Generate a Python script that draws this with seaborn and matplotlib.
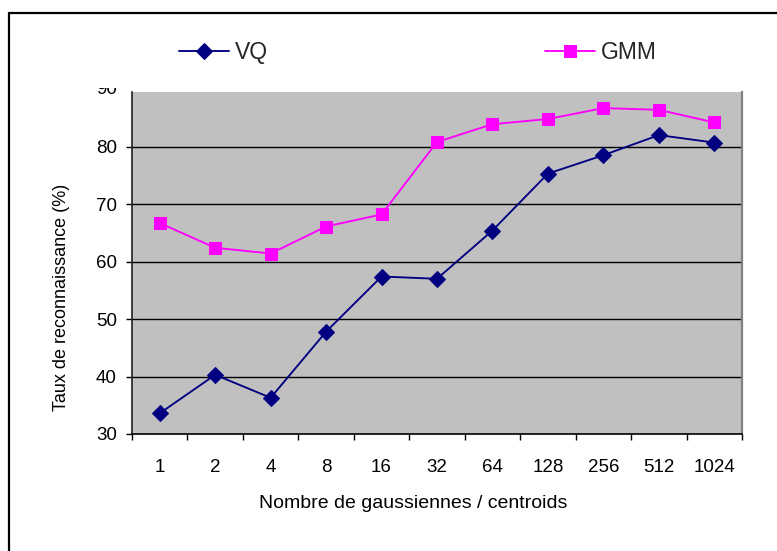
import matplotlib
matplotlib.use("Agg")
import matplotlib.pyplot as plt
import matplotlib.transforms as mtransforms
from matplotlib.lines import Line2D
import seaborn as sns
import pandas as pd

# Recognition rate vs. number of gaussians / centroids
sizes = ["1", "2", "4", "8", "16", "32", "64", "128", "256", "512", "1024"]
vq = [33.6, 40.3, 36.3, 47.8, 57.4, 57.0, 65.4, 75.3, 78.5, 82.0, 80.7]
gmm = [66.7, 62.4, 61.4, 66.1, 68.2, 80.8, 83.9, 84.8, 86.7, 86.4, 84.2]
y_ticks = [30, 40, 50, 60, 70, 80, 90]

sns.set_theme(style="white")
plt.rcParams["font.family"] = ["Liberation Sans", "DejaVu Sans"]

W, H, DPI = 777, 551, 100
fig = plt.figure(figsize=(W / DPI, H / DPI), dpi=DPI)

# outer frame: only the top and left edges are drawn
fig.add_artist(Line2D([9 / W, 9 / W], [0, 1 - 13 / H], transform=fig.transFigure,
                      color="black", lw=1.6))
fig.add_artist(Line2D([9 / W, 1], [1 - 13 / H, 1 - 13 / H], transform=fig.transFigure,
                      color="black", lw=1.6))

left, right, bottom, top = 132 / W, 742 / W, 1 - 434 / H, 1 - 92 / H
ax = fig.add_axes([left, bottom, right - left, top - bottom])
ax.set_facecolor("#C0C0C0")

df = pd.DataFrame({"pos": range(len(sizes)), "VQ": vq, "GMM": gmm})

sns.lineplot(data=df, x="pos", y="VQ", ax=ax, color="#000080", marker="D",
             markersize=8, markeredgecolor="#000080", linewidth=1.35, label="VQ",
             zorder=4)
sns.lineplot(data=df, x="pos", y="GMM", ax=ax, color="#FF00FF", marker="s",
             markersize=8, markeredgecolor="#FF00FF", linewidth=1.35, label="GMM",
             zorder=3)

ax.set_xlim(-0.5, len(sizes) - 0.5)
ax.set_ylim(30, 89.5)

# category boundaries carry the tick marks, category centres carry the labels
ax.set_xticks([i - 0.5 for i in range(len(sizes) + 1)])
ax.set_xticklabels([])
ax.set_xticks(range(len(sizes)), minor=True)
ax.set_xticklabels(sizes, minor=True)
ax.tick_params(axis="x", which="major", direction="out", length=4, width=1,
               color="black", bottom=True)
ax.tick_params(axis="x", which="minor", length=0, pad=18, labelsize=13.5,
               labelcolor="black", bottom=True)

ax.set_yticks([t for t in y_ticks if t < 89.5])
ax.tick_params(axis="y", direction="out", length=4.3, width=1, color="black",
               pad=6.5, labelsize=13.5, labelcolor="black", left=True)

for t in y_ticks[1:]:
    if t < 89.5:
        ax.axhline(t, color="black", lw=1.0, zorder=1)

# the topmost label sits partly hidden under the legend band
lbl_tr = mtransforms.offset_copy(ax.get_yaxis_transform(), fig=fig,
                                 x=-(4.3 + 6.5), y=0, units="points")
top_lbl = ax.text(0, 90, "90", transform=lbl_tr, ha="right", va="center",
                  fontsize=13.5, color="black", clip_on=True)
top_lbl.set_clip_box(mtransforms.Bbox([[0, 0], [W, H - 88]]))

ax.spines["top"].set_visible(False)
ax.spines["left"].set_color("#202020")
ax.spines["left"].set_linewidth(1.2)
ax.spines["bottom"].set_color("black")
ax.spines["bottom"].set_linewidth(1.2)
ax.spines["right"].set_color("#808080")
ax.spines["right"].set_linewidth(1.6)

ax.set_xlabel("")
ax.set_ylabel("")
fig.text(413 / W, 1 - 503 / H, "Nombre de gaussiennes / centroids", ha="center",
         va="center", fontsize=14, color="black")
fig.text(62 / W, 1 - 297 / H, "Taux de reconnaissance (%)", ha="center",
         va="center", rotation=90, fontsize=13, color="black")

handles, labels = ax.get_legend_handles_labels()
ax.get_legend().remove()
for h, l, x0 in zip(handles, labels, [179, 545]):
    fig.legend([h], [l], loc="center left", bbox_to_anchor=(x0 / W, 1 - 53 / H),
               frameon=False, fontsize=16.5, handlelength=2.2, handletextpad=0.25,
               borderpad=0, borderaxespad=0)

fig.savefig("out.png", dpi=DPI)
